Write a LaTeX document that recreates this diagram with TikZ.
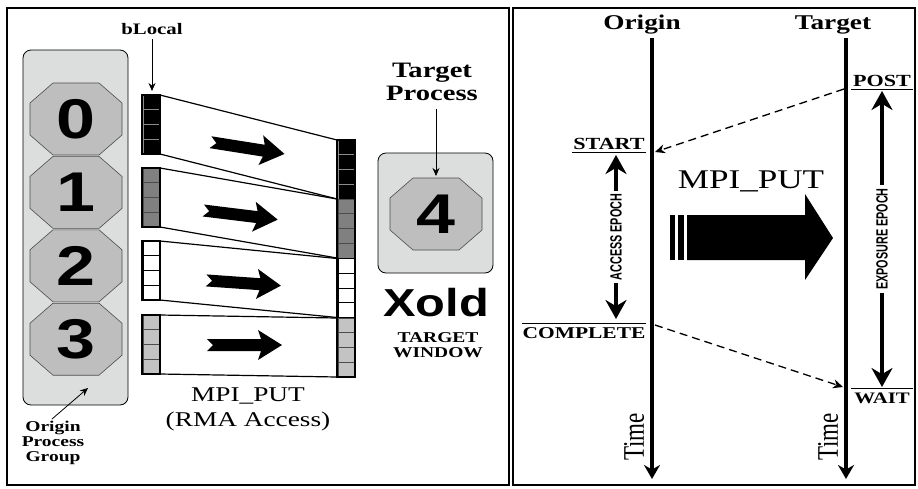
\documentclass[tikz,border=0pt]{standalone}
\usepackage{fontspec}
\setmainfont{Liberation Serif}[FakeStretch=1.3]
\newfontfamily\digitfont{Liberation Sans}[FakeStretch=1.25]
\newfontfamily\epochfont{Liberation Sans}
\newfontfamily\timefont{Liberation Serif}
\usetikzlibrary{arrows.meta}

\definecolor{boxgray}{RGB}{220,222,221}
\definecolor{octgray}{RGB}{190,190,190}
\definecolor{midgray}{RGB}{128,128,128}
\definecolor{cellgray}{RGB}{195,195,195}

\tikzset{
  frame/.style={draw, line width=1.2pt},
  groupbox/.style={draw, thick, fill=boxgray, rounded corners=8pt},
  oct/.style={draw=black!70, fill=octgray, line width=0.6pt},
  digit/.style={font=\digitfont\bfseries\fontsize{56}{56}\selectfont, inner sep=0pt},
  txtb/.style={font=\bfseries\fontsize{#1}{#1}\selectfont, align=center, inner sep=0pt},
  timeline/.style={line width=4pt, -{Stealth[width=16pt,length=14pt]}},
  epoch/.style={line width=4pt, {Stealth[width=21pt,length=19pt]}-{Stealth[width=21pt,length=19pt]}},
  epochlbl/.style={fill=white, inner sep=3pt, rotate=90, font=\epochfont\bfseries\fontsize{12}{12}\selectfont},
  dashline/.style={line width=1.3pt, dash pattern=on 8pt off 5pt, -{Stealth[width=9pt,length=10pt]}},
}

\newcommand{\prococt}[1]{%
  \begin{scope}[shift={(#1)}]
    \draw[oct] (-23,-36) -- (23,-36) -- (46,-16) -- (46,16) -- (23,36) -- (-23,36) -- (-46,16) -- (-46,-16) -- cycle;
  \end{scope}}

\begin{document}
\begin{tikzpicture}[x=1pt,y=-1pt]
\useasboundingbox (0,0) rectangle (918,488);

% panels
\draw[frame] (7,8) rectangle (509,485);
\draw[frame] (513,8) rectangle (915,485);

% origin process group
\draw[groupbox] (23,50) rectangle (128,405);
\foreach \i [evaluate=\i as \yc using 119+73.4*\i] in {0,...,3} {
  \prococt{76,\yc}
  \node[digit] (p\i) at (76,\yc) {\i};
}
\node[txtb=15, font=\bfseries\fontsize{15}{15}\selectfont] (ogroup) at (53,443) {Origin\\Process\\Group};
\coordinate (ogtip) at (88,388);
\draw[thick, -{Stealth[width=7pt,length=8pt]}] ([xshift=-1pt,yshift=2pt]ogroup.north) -- (ogtip);

% buffer cells and put windows
\foreach \col/\edge/\st/\tt in {black/black!45/95/140, midgray/black!70/168/199, white/black/241/258.5, cellgray/black!70/315/318} {
  \foreach \k in {0,...,3} {
    \draw[fill=\col, draw=\edge, line width=0.8pt] (143,\st+14.75*\k) rectangle (159,\st+14.75*\k+14.75);
    \draw[fill=\col, draw=\edge, line width=0.8pt] (338,\tt+14.75*\k) rectangle (354,\tt+14.75*\k+14.75);
  }
  \draw[line width=1.2pt] (142,\st) rectangle (160,\st+59);
  \draw[line width=1.2pt] (160,\st) -- (337,\tt);
  \draw[line width=1.2pt] (160,\st+59) -- (337,\tt+59);
}
\draw[line width=1.2pt] (337,140) rectangle (355,377);

% small put arrows
\foreach \cx/\cy/\ang in {247/148/-9, 240/215/-7, 243/283/-4, 244/345/0}
  \fill[shift={(\cx,\cy)}, rotate=\ang] (-37,-6) -- (17,-6) -- (14,-15) -- (38,0) -- (14,15) -- (17,6) -- (-37,6) -- (-31,0) -- cycle;

\node[txtb=16] (blocal) at (152,29) {bLocal};
\coordinate (blk0) at (152,91);
\draw[thick, -{Stealth[width=7pt,length=8pt]}] (blocal.south) ++(0,4) -- (blk0);

\node[font=\fontsize{21}{25}\selectfont, align=center] (rma) at (248,409) {MPI\_PUT\\(RMA Access)};

% target process
\node[txtb=22, font=\bfseries\fontsize{22}{23}\selectfont] (tproc) at (432,82) {Target\\Process};
\draw[groupbox] (378,153) rectangle (493,273);
\prococt{436,214}
\node[digit] (p4) at (436,214) {4};
\coordinate (oct4top) at (436,176);
\draw[thick, -{Stealth[width=7pt,length=8pt]}] (tproc.south -| oct4top) ++(0,8) -- (oct4top);
\node[font=\digitfont\bfseries\fontsize{39}{39}\selectfont, inner sep=0pt] (xold) at (436,303) {Xold};
\node[txtb=15, font=\bfseries\fontsize{15}{15}\selectfont] (twin) at (438,345) {TARGET\\WINDOW};

% right panel: time lines
\node[txtb=21] (orig) at (642,25) {Origin};
\node[txtb=21] (targ) at (833,25) {Target};
\coordinate (o0) at (652,38); \coordinate (o1) at (652,479);
\coordinate (t0) at (846,38); \coordinate (t1) at (846,479);
\draw[timeline] (o0) -- (o1);
\draw[timeline] (t0) -- (t1);
\node[rotate=90, inner sep=0pt] (otime) at (634,437) {\scalebox{1}[1.3]{\timefont\fontsize{23}{23}\selectfont Time}};
\node[rotate=90, inner sep=0pt] (ttime) at (828,437) {\scalebox{1}[1.3]{\timefont\fontsize{23}{23}\selectfont Time}};

% synchronisation calls
\node[txtb=17] (start) at (609,144) {START};
\draw[thick] (572,152) -- (646,152);
\node[txtb=16.5] (complete) at (584,333) {COMPLETE};
\draw[thick] (522,323) -- (646,323);
\node[txtb=17] (post) at (882,81) {POST};
\draw[thick] (851,89) -- (913,89);
\node[txtb=16] (wait) at (882,398) {WAIT};
\draw[thick] (851,388) -- (913,388);

\coordinate (postpt) at (844,89);
\coordinate (startpt) at (655,152);
\coordinate (complpt) at (655,325);
\coordinate (waitpt) at (843,387);
\draw[dashline] (postpt) -- (startpt);
\draw[dashline] (complpt) -- (waitpt);

% epochs
\coordinate (as) at (616,155); \coordinate (ae) at (616,319);
\draw[epoch] (as) -- (ae) node[midway, epochlbl] {\scalebox{0.9}[1.35]{ACCESS EPOCH}};
\coordinate (es) at (882,91); \coordinate (ee) at (882,387);
\draw[epoch] (es) -- (ee) node[midway, epochlbl] {\scalebox{0.9}[1.35]{EXPOSURE EPOCH}};

% big put arrow
\node[font=\fontsize{27}{27}\selectfont, inner sep=0pt] (bigput) at (751,181) {MPI\_PUT};
\fill (670,215) rectangle (675,260);
\fill (678,215) rectangle (684,260);
\fill (687,215) -- (805,215) -- (805,194) -- (833,238) -- (805,280) -- (805,260) -- (687,260) -- cycle;
\end{tikzpicture}
\end{document}
